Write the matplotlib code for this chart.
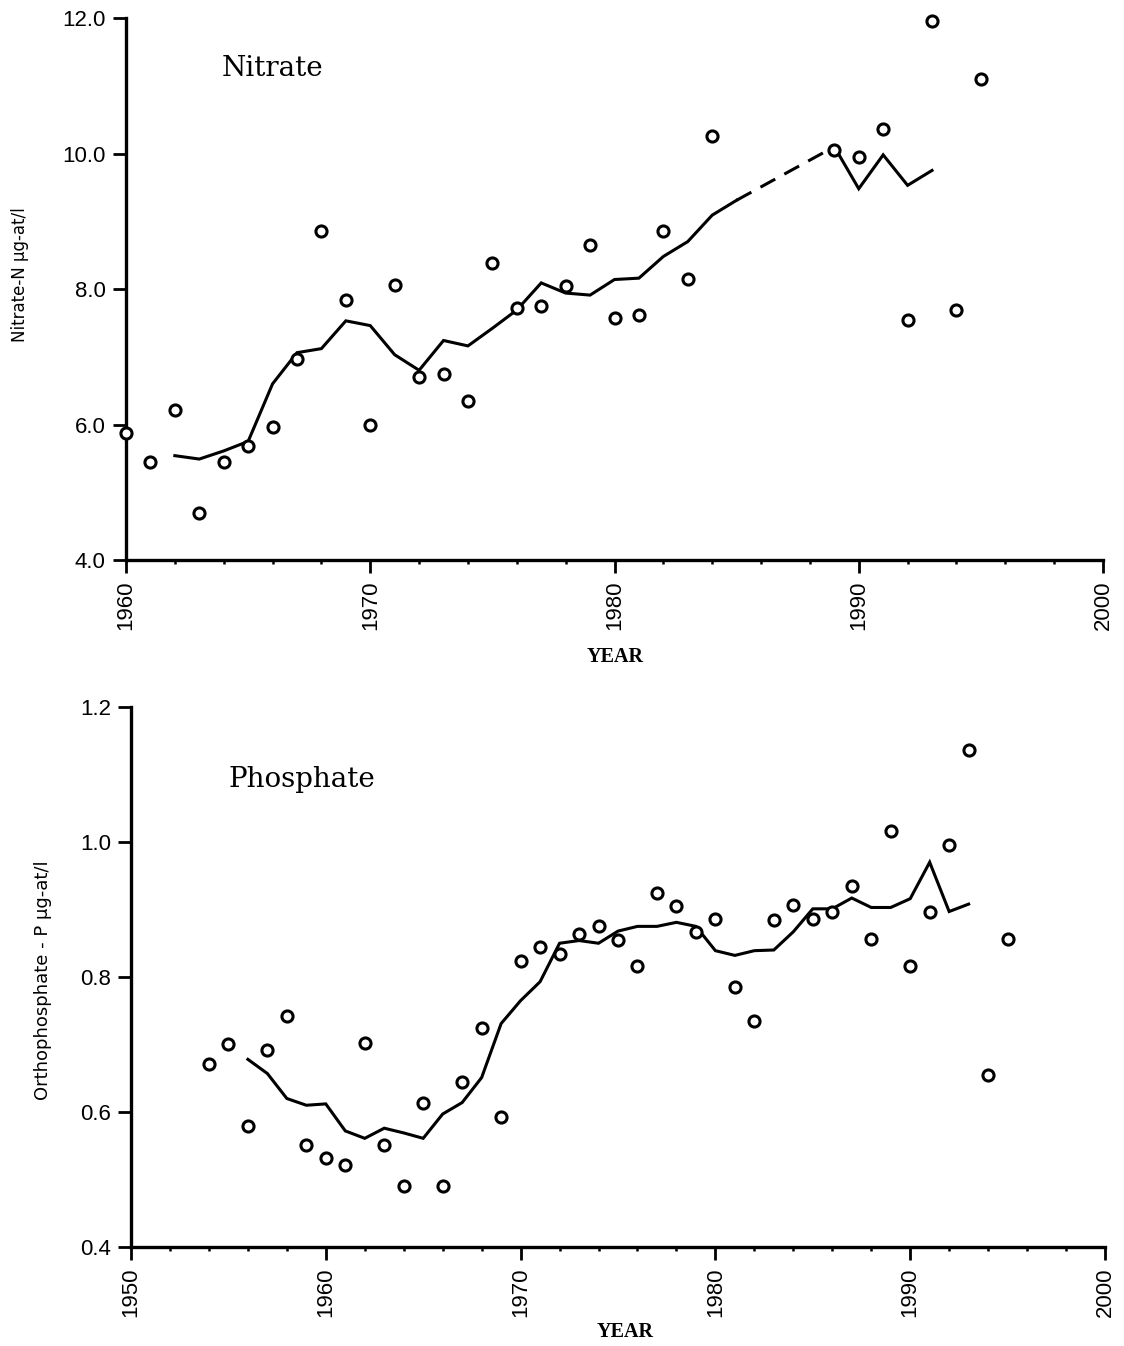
import numpy as np
import matplotlib
matplotlib.use("Agg")
import matplotlib.pyplot as plt
from matplotlib.ticker import MultipleLocator

# ---------------- data ----------------
nitrate_years = [1960, 1961, 1962, 1963, 1964, 1965, 1966, 1967, 1968, 1969,
                 1970, 1971, 1972, 1973, 1974, 1975, 1976, 1977, 1978, 1979,
                 1980, 1981, 1982, 1983, 1984, 1989, 1990, 1991, 1992, 1993,
                 1994, 1995]
nitrate_values = [5.87, 5.45, 6.22, 4.70, 5.45, 5.68, 5.97, 6.97, 8.86, 7.84,
                  6.00, 8.06, 6.70, 6.75, 6.35, 8.38, 7.72, 7.75, 8.04, 8.65,
                  7.57, 7.62, 8.86, 8.15, 10.26, 10.05, 9.95, 10.36, 7.54, 11.96,
                  7.69, 11.10]

nitrate_line_years = list(range(1962, 1994))
nitrate_line_values = [5.54, 5.49, 5.61, 5.75, 6.60, 7.06, 7.12, 7.53, 7.46, 7.03,
                       6.80, 7.24, 7.16, 7.42, 7.69, 8.09, 7.94, 7.91, 8.14, 8.16,
                       8.48, 8.70, 9.09, 9.31, np.nan, np.nan, np.nan, 10.10, 9.48, 9.98,
                       9.53, 9.75]

phosphate_years = list(range(1954, 1996))
phosphate_values = [0.671, 0.701, 0.580, 0.692, 0.742, 0.551, 0.532, 0.521, 0.702, 0.551,
                    0.491, 0.613, 0.491, 0.644, 0.724, 0.593, 0.824, 0.844, 0.834, 0.864,
                    0.875, 0.855, 0.816, 0.925, 0.905, 0.866, 0.886, 0.785, 0.735, 0.885,
                    0.906, 0.886, 0.896, 0.935, 0.856, 1.016, 0.816, 0.896, 0.996, 1.136,
                    0.655, 0.856]

phosphate_line_years = list(range(1956, 1994))
phosphate_line_values = [0.678, 0.657, 0.620, 0.610, 0.612, 0.572, 0.561, 0.576, 0.569, 0.561,
                         0.597, 0.614, 0.651, 0.731, 0.765, 0.793, 0.850, 0.854, 0.850, 0.868,
                         0.875, 0.875, 0.881, 0.875, 0.839, 0.832, 0.839, 0.840, 0.867, 0.901,
                         0.901, 0.917, 0.903, 0.903, 0.916, 0.970, 0.897, 0.908]

nitrate_yticks = [4.0, 6.0, 8.0, 10.0, 12.0]
phosphate_yticks = [0.4, 0.6, 0.8, 1.0, 1.2]
nitrate_xticks = [1960, 1970, 1980, 1990, 2000]
phosphate_xticks = [1950, 1960, 1970, 1980, 1990, 2000]

# ---------------- figure ----------------
W, H = 1124, 1346
fig = plt.figure(figsize=(W / 100, H / 100), dpi=100)
fig.patch.set_facecolor("white")

tick_font = dict(family=["Liberation Sans", "DejaVu Sans"], size=16)
lab_font = ["DejaVu Sans"]
LW = 2.2


def px_axes(l, r, t, b):
    return fig.add_axes([l / W, 1 - b / H, (r - l) / W, (b - t) / H])


def style(ax, xlim, ylim, xticks, yticks, yfmt):
    ax.set_xlim(*xlim)
    ax.set_ylim(*ylim)
    for s in ("top", "right"):
        ax.spines[s].set_visible(False)
    for s in ("left", "bottom"):
        ax.spines[s].set_linewidth(2.4)
    ax.set_xticks(xticks)
    ax.set_xticklabels([str(x) for x in xticks], rotation=90, **tick_font)
    ax.xaxis.set_minor_locator(MultipleLocator(2))
    ax.set_yticks(yticks)
    ax.set_yticklabels([yfmt.format(v) for v in yticks], **tick_font)
    ax.tick_params(axis="x", which="major", direction="out", length=9.5, width=2.0, pad=5)
    ax.tick_params(axis="x", which="minor", direction="out", length=3, width=1.8)
    ax.tick_params(axis="y", which="major", direction="out", length=9.5, width=2.0, pad=5)


def plot_line(ax, xs, ys):
    xs = np.asarray(xs, float)
    ys = np.asarray(ys, float)
    ax.plot(xs, ys, color="black", lw=LW, solid_joinstyle="miter", zorder=3)
    # dashed bridge over gaps
    nan = np.isnan(ys)
    if nan.any():
        idx = np.where(nan)[0]
        a, b = idx[0] - 1, idx[-1] + 1
        ax.plot([xs[a], xs[b]], [ys[a], ys[b]], color="black", lw=LW,
                dashes=(5.5, 3.4), zorder=3)


mk = dict(linestyle="none", marker="o", ms=8.0, mfc="white", mec="black",
          mew=2.2, clip_on=False, zorder=4)

# ---- top panel: Nitrate ----
ax1 = px_axes(126, 1103, 18, 560)
style(ax1, (1960, 2000), (4.0, 12.0), nitrate_xticks, nitrate_yticks, "{:.1f}")
plot_line(ax1, nitrate_line_years, nitrate_line_values)
ax1.plot(nitrate_years, nitrate_values, **mk)
ax1.text(1963.9, 11.26, "Nitrate", family=["DejaVu Serif"], size=20,
         ha="left", va="center")
ax1.set_ylabel("Nitrate-N μg-at/l", family=lab_font, size=12, va="center")
ax1.yaxis.set_label_coords(-0.1085, 0.526)
ax1.set_xlabel("YEAR", family=["Liberation Serif", "DejaVu Serif"], size=14.5,
               weight="bold", va="center")
ax1.xaxis.set_label_coords(0.5005, -0.179)

# ---- bottom panel: Phosphate ----
ax2 = px_axes(131, 1105, 707, 1247)
style(ax2, (1950, 2000), (0.4, 1.2), phosphate_xticks, phosphate_yticks, "{:.1f}")
plot_line(ax2, phosphate_line_years, phosphate_line_values)
ax2.plot(phosphate_years, phosphate_values, **mk)
ax2.text(1954.98, 1.092, "Phosphate", family=["DejaVu Serif"], size=20,
         ha="left", va="center")
ax2.set_ylabel("Orthophosphate - P μg-at/l", family=lab_font, size=13, va="center")
ax2.yaxis.set_label_coords(-0.0903, 0.494)
ax2.set_xlabel("YEAR", family=["Liberation Serif", "DejaVu Serif"], size=14.5,
               weight="bold", va="center")
ax2.xaxis.set_label_coords(0.507, -0.157)

fig.savefig("out.png", dpi=100, facecolor="white")
